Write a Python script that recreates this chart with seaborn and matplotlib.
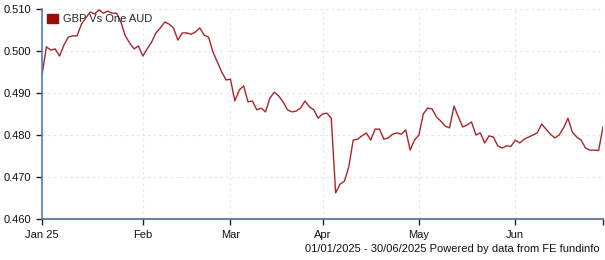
import matplotlib
matplotlib.use("Agg")
import matplotlib.pyplot as plt
import seaborn as sns
import pandas as pd
import numpy as np
from matplotlib.patches import Patch

# GBP vs one AUD, one value per business day, 01/01/2025 - 30/06/2025
rates = [
    0.4943, 0.5010, 0.5002, 0.5005, 0.4988, 0.5014, 0.5033, 0.5036, 0.5036, 0.5064,
    0.5079, 0.5093, 0.5088, 0.5098, 0.5090, 0.5095, 0.5090, 0.5090, 0.5069, 0.5036,
    0.5019, 0.5005, 0.5012, 0.4988, 0.5005, 0.5021, 0.5043, 0.5055, 0.5069, 0.5064,
    0.5055, 0.5026, 0.5043, 0.5043, 0.5040, 0.5045, 0.5055, 0.5038, 0.5033, 0.4998,
    0.4974, 0.4950, 0.4931, 0.4933, 0.4881, 0.4907, 0.4917, 0.4879, 0.4881, 0.4860,
    0.4864, 0.4855, 0.4888, 0.4902, 0.4893, 0.4879, 0.4860, 0.4855, 0.4857, 0.4864,
    0.4881, 0.4867, 0.4860, 0.4840, 0.4850, 0.4852, 0.4840, 0.4662, 0.4683, 0.4690,
    0.4724, 0.4788, 0.4790, 0.4798, 0.4805, 0.4788, 0.4814, 0.4814, 0.4790, 0.4793,
    0.4802, 0.4805, 0.4802, 0.4812, 0.4764, 0.4788, 0.4800, 0.4850, 0.4864, 0.4862,
    0.4843, 0.4833, 0.4821, 0.4817, 0.4869, 0.4843, 0.4819, 0.4824, 0.4831, 0.4800,
    0.4805, 0.4781, 0.4798, 0.4795, 0.4774, 0.4769, 0.4774, 0.4773, 0.4788, 0.4781,
    0.4790, 0.4795, 0.4800, 0.4805, 0.4826, 0.4814, 0.4802, 0.4793, 0.4800, 0.4817,
    0.4840, 0.4807, 0.4795, 0.4788, 0.4769, 0.4764, 0.4764, 0.4763, 0.4819,
]
series_name = "GBP Vs One AUD"
y_ticks = [0.460, 0.470, 0.480, 0.490, 0.500, 0.510]
month_labels = ["Jan 25", "Feb", "Mar", "Apr", "May", "Jun"]
footer = "01/01/2025 - 30/06/2025 Powered by data from FE fundinfo"

dates = pd.bdate_range("2025-01-01", "2025-06-30")
df = pd.DataFrame({"date": dates, "pos": np.arange(len(dates)), "rate": rates})

# first business day of each month
firsts = df.groupby(df["date"].dt.month)["pos"].min().tolist()
tick_pos = firsts + [len(dates) - 1]
tick_lab = month_labels + [""]

sns.set_style("white")
plt.rcParams["font.family"] = ["Liberation Sans", "DejaVu Sans"]

fig = plt.figure(figsize=(6.05, 2.6), dpi=100)
ax = fig.add_axes([42 / 605, 1 - 219 / 260, 561 / 605, 210 / 260])

line_color = "#a8262a"
sns.lineplot(data=df, x="pos", y="rate", ax=ax, color=line_color, linewidth=1.0,
             label=series_name, legend=False)

ax.set_xlim(0, len(dates) - 1)
ax.set_ylim(0.460, 0.510)
ax.set_yticks(y_ticks)
ax.set_yticklabels([f"{v:.3f}" for v in y_ticks])
ax.set_xticks(tick_pos)
ax.set_xticklabels(tick_lab)
ax.set_xlabel("")
ax.set_ylabel("")

ax.grid(True, color="#e8e8e8", linestyle=(0, (2.5, 2.5)), linewidth=0.8)
ax.set_axisbelow(True)
for s in ["top", "right"]:
    ax.spines[s].set_visible(False)
ax.spines["left"].set_color("#4f7fb5")
ax.spines["left"].set_linewidth(1.2)
ax.spines["bottom"].set_color("#4d6b96")
ax.spines["bottom"].set_linewidth(1.2)

ax.tick_params(axis="both", which="both", direction="out", length=4, width=1,
               color="#222222", labelsize=8, labelcolor="#111111", pad=4,
               left=True, bottom=True)
ax.tick_params(axis="x", pad=4)

# legend
handles = [Patch(facecolor="#9c0a0a", edgecolor="#9c0a0a")]
leg = ax.legend(handles, [series_name], loc="upper left", frameon=False,
                fontsize=8, handlelength=0.95, handleheight=0.95, handletextpad=0.45,
                borderaxespad=0.0, borderpad=0.25, bbox_to_anchor=(0.004, 0.99))

fig.text(600 / 605, 1 - 249 / 260, footer, ha="right", va="center",
         fontsize=8, color="#111111")

fig.savefig("out.png", dpi=100)
